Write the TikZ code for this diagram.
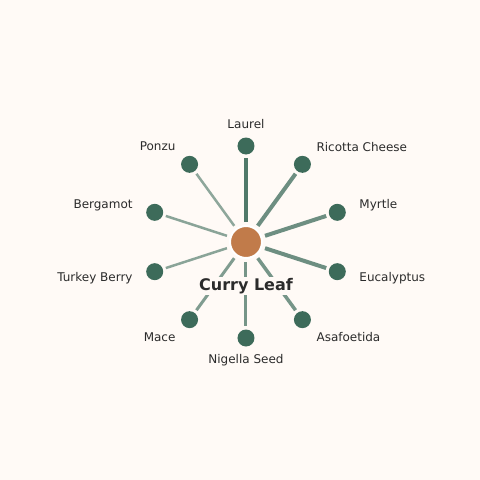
\documentclass[tikz,border=0pt]{standalone}
\usepackage{fontspec}
\setmainfont{DejaVu Sans}
\definecolor{bgcream}{HTML}{FFFAF6}
\definecolor{leafgreen}{HTML}{3D6B5A}
\definecolor{leafhub}{HTML}{C17B4A}
\definecolor{inkdark}{HTML}{2B2B2B}

\begin{document}
\begin{tikzpicture}[x = 1pt, y = 1pt,
    hub/.style = {circle, fill = leafhub, draw = white, line width = 2pt, minimum size = 32pt, inner sep = 0pt},
    spice/.style = {circle, fill = leafgreen, minimum size = 17pt, inner sep = 0pt},
    spicelabel/.style = {text = inkdark, font = \fontsize{12}{14}\selectfont, inner sep = 1pt},
    link/.style = {draw = leafgreen, shorten <= 3pt, shorten >= 3pt}]

        \fill [bgcream] (-246,-238) rectangle (234,242);
        \node [hub] (hub) at (0,0) {};
        \foreach \a/\name/\lab/\w/\op/\anc in {90/laurel/Laurel/4.5/0.9/center,
            54/ricotta/Ricotta Cheese/4/0.75/west, 18/myrtle/Myrtle/4/0.75/west,
            -18/eucalyptus/Eucalyptus/4/0.75/west, -54/asafoetida/Asafoetida/3.5/0.7/west,
            -90/nigella/Nigella Seed/3/0.7/center, -126/mace/Mace/3/0.65/east,
            -162/turkey/Turkey Berry/2.5/0.6/east, 162/bergamot/Bergamot/2.5/0.6/east,
            126/ponzu/Ponzu/2.5/0.58/east} {
          \node [spice] (\name) at (\a:96) {};
          \node [spicelabel, anchor = \anc] (\name-label) at (\a:118) {\lab};
          \draw [link, line width = \w pt, draw opacity = \op] (hub) -- (\name);
        }
        \node [text = inkdark, font = \bfseries\fontsize{16}{19}\selectfont, fill = bgcream, inner sep = 1pt] (title) at (0,-44) {Curry Leaf};
        \end{tikzpicture}
\end{document}
